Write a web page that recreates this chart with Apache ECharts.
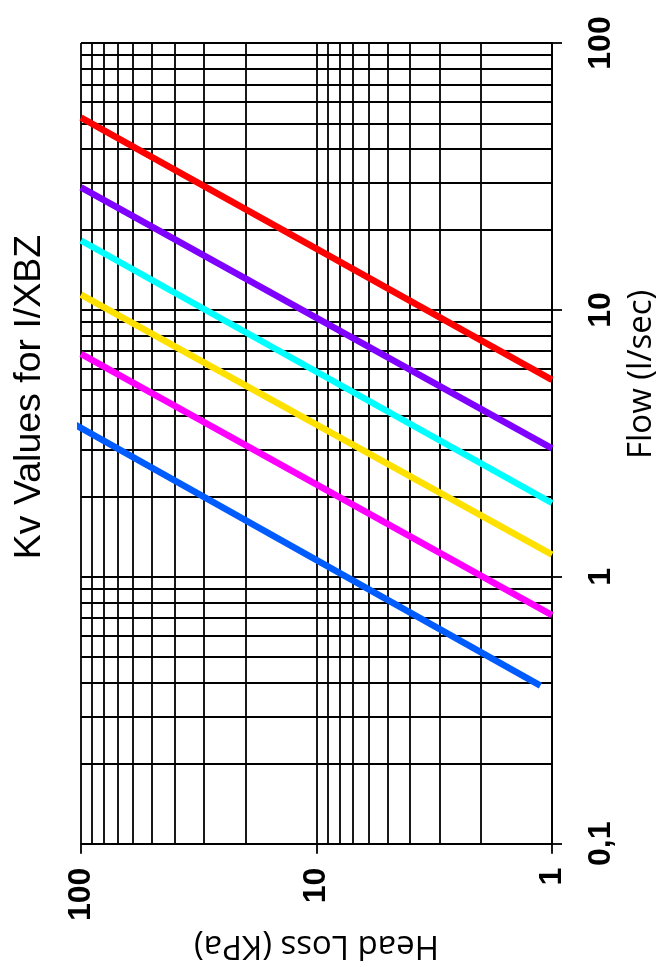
<!DOCTYPE html>
<html>
<head>
<meta charset="utf-8">
<script src="https://cdn.jsdelivr.net/npm/echarts@6/dist/echarts.min.js"></script>
<style>
html,body{margin:0;padding:0;background:#fff;overflow:hidden;}
#main{width:666px;height:967px;}
</style>
</head>
<body>
<div id="main"></div>
<script>
// ---- text ----
const titleText = 'Kv Values for I/XBZ';
const headLossAxisName = 'Head Loss (KPa)';
const flowAxisName = 'Flow (l/sec)';

// ---- tick labels ----
const headLossTickValues = [1, 10, 100];
const headLossTickLabels = ['1', '10', '100'];
const flowTickValues = [0.1, 1, 10, 100];
const flowTickLabels = ['0,1', '1', '10', '100'];

// ---- minor grid values ----
const headLossMinorGrid = [2, 3, 4, 5, 6, 7, 8, 9, 20, 30, 40, 50, 60, 70, 80, 90];
const flowMinorGrid = [0.2, 0.3, 0.4, 0.5, 0.6, 0.7, 0.8, 0.9, 2, 3, 4, 5, 6, 7, 8, 9, 20, 30, 40, 50, 60, 70, 80, 90];

// ---- series (each line: [head loss kPa, flow l/s] at both ends) ----
const lineNames = ['Red', 'Purple', 'Cyan', 'Yellow', 'Magenta', 'Blue'];
const lineColors = ['#ff0000', '#7f00ff', '#00ffff', '#ffe100', '#ff00ff', '#005cff'];
const redLine = [[100, 52.5], [1, 5.47]];
const purpleLine = [[100, 28.8], [1, 3.03]];
const cyanLine = [[100, 18.2], [1, 1.89]];
const yellowLine = [[100, 11.4], [1, 1.21]];
const magentaLine = [[100, 6.84], [1, 0.718]];
const blueLine = [[108, 3.75], [1.12, 0.391]];
const lineData = [redLine, purpleLine, cyanLine, yellowLine, magentaLine, blueLine];

function labelFor(values, labels, v) {
  let best = 0, bd = Infinity;
  values.forEach((t, i) => { const d = Math.abs(Math.log10(t) - Math.log10(v)); if (d < bd) { bd = d; best = i; } });
  return bd < 1e-6 ? labels[best] : '';
}

const gridLine = { color: '#000', width: 1.8, type: 'solid' };
const labelFont = 'Liberation Sans';
const nameFont = 'Open Sans';

const chart = echarts.init(document.getElementById('main'));

const series = [{
  name: 'grid',
  type: 'line',
  data: [],
  silent: true,
  z: 1,
  markLine: {
    silent: true,
    symbol: ['none', 'none'],
    label: { show: false },
    animation: false,
    lineStyle: gridLine,
    emphasis: { disabled: true },
    data: headLossMinorGrid.map(v => ({ xAxis: v })).concat(flowMinorGrid.map(v => ({ yAxis: v })))
  }
}];

lineData.forEach((d, i) => {
  series.push({
    name: lineNames[i],
    type: 'line',
    data: d,
    symbol: 'none',
    clip: false,
    z: 5,
    lineStyle: { color: lineColors[i], width: 6.5, cap: 'butt' },
    itemStyle: { color: lineColors[i] }
  });
});

chart.setOption({
  animation: false,
  backgroundColor: '#fff',
  grid: { left: 81, right: 114, top: 43, bottom: 118 },
  graphic: [{
    type: 'text',
    x: 30,
    y: 397,
    rotation: Math.PI / 2,
    style: {
      text: titleText,
      font: '37.5px "Liberation Sans"',
      fill: '#000',
      align: 'center',
      verticalAlign: 'middle'
    }
  }],
  xAxis: {
    type: 'log',
    logBase: 10,
    min: 1,
    max: 100,
    inverse: true,
    position: 'bottom',
    axisLine: { show: true, lineStyle: { color: '#000', width: 1.8 } },
    axisTick: { show: true, length: 10, lineStyle: { color: '#000', width: 1.8 } },
    splitLine: { show: true, lineStyle: gridLine },
    minorTick: { show: false },
    axisLabel: {
      rotate: 90,
      margin: 24,
      color: '#000',
      fontFamily: labelFont,
      fontWeight: 'bold',
      fontSize: 32,
      formatter: v => labelFor(headLossTickValues, headLossTickLabels, v)
    },
    name: headLossAxisName,
    nameLocation: 'middle',
    nameRotate: 180,
    nameGap: 80,
    nameTextStyle: { color: '#000', fontFamily: nameFont, fontSize: 33 }
  },
  yAxis: {
    type: 'log',
    logBase: 10,
    min: 0.1,
    max: 100,
    position: 'right',
    axisLine: { show: true, lineStyle: { color: '#000', width: 1.8 } },
    axisTick: { show: true, length: 10, lineStyle: { color: '#000', width: 1.8 } },
    splitLine: { show: true, lineStyle: gridLine },
    minorTick: { show: false },
    axisLabel: {
      rotate: 90,
      margin: 33,
      color: '#000',
      fontFamily: labelFont,
      fontWeight: 'bold',
      fontSize: 32,
      formatter: v => labelFor(flowTickValues, flowTickLabels, v)
    },
    name: flowAxisName,
    nameLocation: 'middle',
    nameRotate: 90,
    nameGap: 60,
    nameTextStyle: { color: '#000', fontFamily: nameFont, fontSize: 33, padding: [0, 0, 0, 138] }
  },
  series: series
});
</script>
</body>
</html>
